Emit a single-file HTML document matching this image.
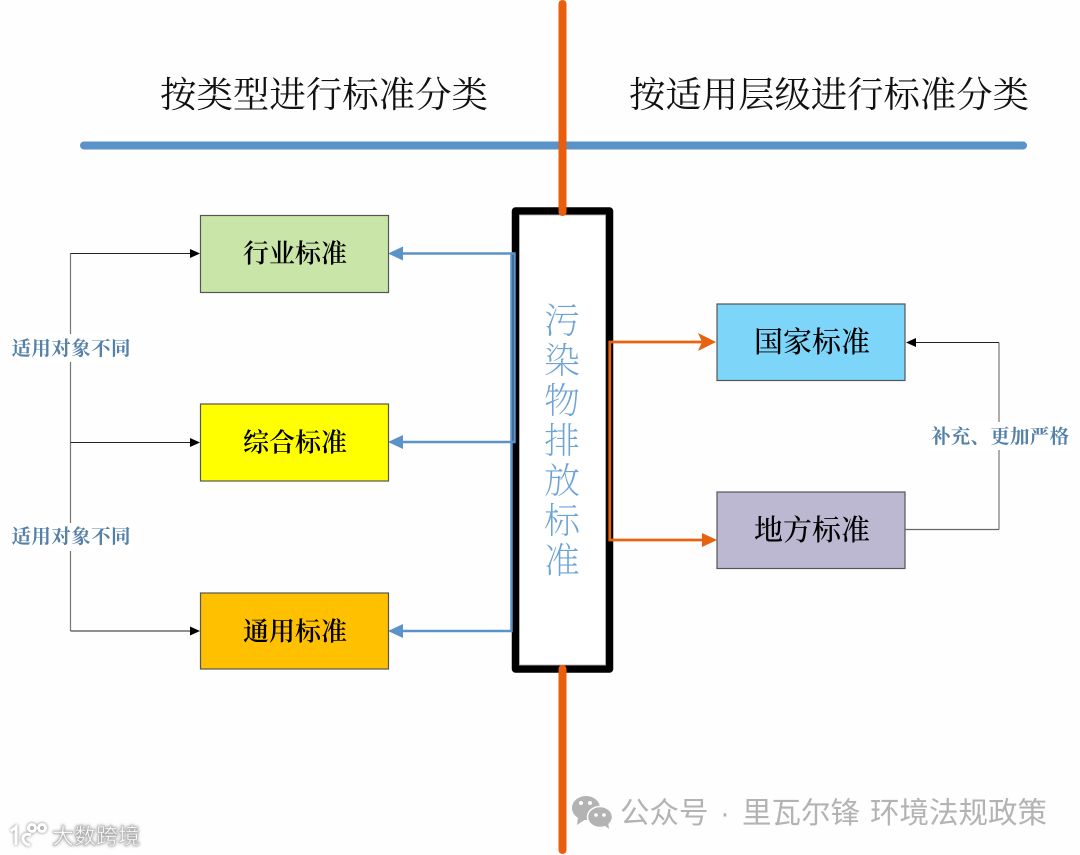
<!DOCTYPE html>
<html><head><meta charset="utf-8"><style>
html,body{margin:0;padding:0;background:#fff;width:1080px;height:855px;overflow:hidden}
svg{display:block}
.s{font-family:"Liberation Serif","Noto Serif CJK SC",serif}
.g{font-family:"Liberation Sans","Noto Sans CJK SC",sans-serif}
</style></head><body>
<svg width="1080" height="855" viewBox="0 0 1080 855" xmlns="http://www.w3.org/2000/svg">
<rect width="1080" height="855" fill="#fefefe"/>
<text class="s" x="160" y="107" font-size="36" fill="#111" textLength="328" lengthAdjust="spacingAndGlyphs">按类型进行标准分类</text>
<text class="s" x="629" y="107" font-size="36" fill="#111" textLength="400" lengthAdjust="spacingAndGlyphs">按适用层级进行标准分类</text>

<line x1="84" y1="145.500" x2="1023" y2="145.500" stroke="#5b93c9" stroke-width="8" stroke-linecap="round"/>

<rect x="515.500" y="211" width="94" height="458" fill="#fff" stroke="#000" stroke-width="7.500" stroke-linejoin="round"/>
<rect x="519.500" y="215" width="86" height="450" fill="none" stroke="#aaa" stroke-width=".8"/>

<line x1="562.500" y1="4" x2="562.500" y2="212" stroke="#e85e0c" stroke-width="8" stroke-linecap="round"/>
<line x1="562.500" y1="669" x2="562.500" y2="850" stroke="#e85e0c" stroke-width="8" stroke-linecap="round"/>

<text class="s" font-size="36" fill="#6ea3d6" text-anchor="middle" font-weight="200">
<tspan x="562" y="333">污</tspan><tspan x="562" y="373">染</tspan><tspan x="562" y="413">物</tspan><tspan x="562" y="453">排</tspan><tspan x="562" y="493">放</tspan><tspan x="562" y="533">标</tspan><tspan x="562" y="573">准</tspan>
</text>

<!-- Blue connectors -->
<g fill="none" stroke="#5b93c9" stroke-width="2.500">
<path d="M401 253.500H514.500V442H401"/>
<path d="M401 631H511.500V253.500"/>
</g>
<g fill="#5b93c9">
<polygon points="388,253.500 403,246.500 403,260.500"/>
<polygon points="388,442 403,435 403,449"/>
<polygon points="388,631 403,624 403,638"/>
</g>

<!-- Orange connectors -->
<g fill="none" stroke="#e8630f" stroke-width="2.800">
<path d="M702 342H609.800V540H705"/>
</g>
<g fill="#e8630f">
<polygon points="716,342 698,333 702,342 698,351"/>
<polygon points="717,540 702,533 702,547"/>
</g>

<!-- Boxes -->
<g stroke="#555" stroke-width="1.200">
<rect x="200.500" y="215.500" width="188" height="77" fill="#c9e6a8"/>
<rect x="200.500" y="404" width="188" height="77" fill="#ffff00"/>
<rect x="200.500" y="593" width="188" height="76" fill="#ffc000"/>
<rect x="717" y="304" width="188" height="76.500" fill="#7dd6fa"/>
<rect x="717" y="492" width="188" height="76.500" fill="#bcb8d1"/>
</g>
<g class="s" font-size="26" fill="#000" text-anchor="middle" font-weight="600">
<text x="295" y="262.500">行业标准</text>
<text x="295" y="451.500">综合标准</text>
<text x="295" y="640.500">通用标准</text>
<text x="812" y="352" font-size="29" font-weight="500">国家标准</text>
<text x="812" y="540" font-size="29" font-weight="500">地方标准</text>
</g>

<!-- Thin connectors -->
<g fill="none">
<path d="M70.500 253.500V631M999 342.500V529.500" stroke="#777" stroke-width="1.200"/>
<path d="M191 253.500H70.500M70.500 631H191M70.500 442.500H191M915 342.500H999" stroke="#222" stroke-width="1"/>
<path d="M999 529.500H905" stroke="#666" stroke-width="1.200"/>
</g>
<g fill="#000">
<polygon points="200,253.500 190,249 190,258"/>
<polygon points="200,442.500 190,438 190,447"/>
<polygon points="200,631 190,626.500 190,635.500"/>
<polygon points="906,342.500 916,338 916,347"/>
</g>

<rect x="10" y="334" width="122" height="28" fill="#fff"/>
<rect x="10" y="523" width="122" height="28" fill="#fff"/>
<rect x="928" y="422" width="144" height="28" fill="#fff"/>
<g class="s" fill="#5580a8" font-weight="700" text-anchor="middle">
<text x="71" y="355" font-size="19.500" textLength="119">适用对象不同</text>
<text x="71" y="543" font-size="19.500" textLength="119">适用对象不同</text>
<text x="1000" y="443" font-size="19.500" textLength="138">补充、更加严格</text>
</g>

<!-- Watermark right -->
<g fill="#b3b3b3">
<ellipse cx="586" cy="808" rx="14" ry="12"/>
<polygon points="578,817 577,825 586,819"/>
</g>
<g fill="#b3b3b3" stroke="#fefefe" stroke-width="1.500">
<ellipse cx="600" cy="817" rx="12.500" ry="10.500"/>
</g>
<polygon points="604,825 609,829 608,822" fill="#b3b3b3"/>
<g fill="#fff">
<circle cx="581" cy="803" r="2"/><circle cx="590" cy="803" r="2"/>
<circle cx="596" cy="815" r="1.800"/><circle cx="604" cy="815" r="1.800"/>
</g>
<g class="g" font-size="29.500" fill="#b3b3b3">
<text x="620" y="823">公众号</text>
<text x="720" y="823">·</text>
<text x="742" y="823">里瓦尔锋</text>
<text x="870" y="823">环境法规政策</text>
</g>

<!-- Watermark left -->
<g fill="none" stroke="#fff" stroke-width="3" style="filter:drop-shadow(0 0 1.500px #777)">
<path d="M11 831L16 827V845"/>
<path d="M31 835C22 831 19 843 30 845"/>
<circle cx="32" cy="828" r="3.500"/><circle cx="42" cy="828" r="3.500"/>
</g>
<text class="g" x="52" y="844" font-size="22" fill="#fff" stroke="#bbb" stroke-width=".6" textLength="88" style="filter:drop-shadow(0 0 1.500px #888)">大数跨境</text>
</svg>
</body></html>
